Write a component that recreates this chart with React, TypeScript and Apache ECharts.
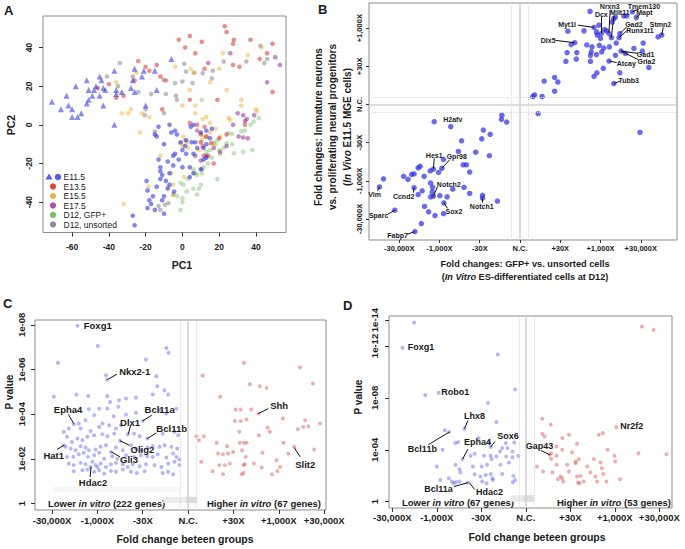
import React, { useEffect, useRef } from 'react';
import * as echarts from 'echarts';

const FONT = "'Liberation Sans', Arial, Helvetica, sans-serif";

// ---------- Panel A: PCA (PC1, PC2) ----------
const pcaE115Tri = [[-71,12],[-66,8],[-63,15],[-62,10],[-60,8],[-60,4],[-57,4],[-58,20],[-55,6],[-52,11],[-52,23],[-51,18],[-51,13],[-49,15],[-48,18],[-47,20],[-45,15],[-45,25],[-44,23],[-43,10],[-43,19],[-42,18],[-37,0],[-37,28],[-36,18],[-36,16],[-33,17],[-28,19],[-27,23],[-26,29],[-26,17],[-22,25],[-21,28],[-20,10],[-15,28],[-14,18],[-6,34]];
const pcaE115Circ = [[-27,-47],[-26,-52],[-19.5,-29],[-19,-34],[-19,-43],[-18,-39],[-17,-41],[-16,-37],[-15,-44],[-15,-5],[-14,-6],[-13,-1],[-13,-18],[-12,-24],[-12,-22],[-12,-28],[-11,-26],[-10,-46],[-10,-10],[-10,-37],[-9,-29],[-8,-19],[-7,0],[-7,-25],[-7,-31],[-6,-4],[-5,-21],[-5,-16],[-4.5,-34.5],[-4,-3],[-4,-15],[-3,-5],[-2,-18],[-1,-9],[0,-22],[1.5,-11],[2,-15],[4,-22],[4,-27],[4.5,-1],[5,-9],[6,0],[6,-15],[6,-25],[7,-9],[8,-12],[10,-4],[10,-23],[11.5,-12],[11.5,-18],[13,-17],[13,-3],[13,-10],[15,-7],[16,-2],[0,-13],[2,-8],[-8,-33],[-11,-39],[-14,-32]];
const pcaE135 = [[-46,19],[-40,21],[-36,14],[-32,15],[-26,23],[-24,33],[-20,30],[-18,28],[-14,31],[-12,25],[-11,8],[-9,23],[-2,44],[1.5,40],[4,46],[7,37],[10.5,43],[12,29],[4,13],[19,13],[4,1],[8,0],[8,-3],[10,-5],[12,-1],[13,-6],[10,-9],[11,-11],[15.5,-9.5],[20,-7],[24,-5],[14,-16],[11.5,-16],[23,51],[24,48],[28,44],[27.5,42],[27.5,31],[31,30],[37,44],[42,34],[46,37],[49,42],[49,17],[34,0],[17,-20]];
const pcaE155 = [[-36,22],[-33,6],[-29.5,6],[-28,8],[-25,27],[-23,-4],[-22,6],[-18,4],[-32,-41],[-18.5,-32],[-12,-16],[-4,30],[4.5,29],[6,27],[4,18],[0,10],[7,10],[7,6],[11,3],[13,4],[15,1],[18,-2],[15,-4],[20.5,-6],[0.5,-6],[-1,-9.5],[0,-11],[1.5,-8],[2.4,-9],[3,-12],[11.5,-6],[10.5,-8],[-6,-25],[-5,-31],[-8,-32],[-5,-36],[22,37],[35.5,36],[43,40],[32,13],[32,10],[24,18],[25,3.5],[26,2.5],[40,8],[40.5,7],[15,22],[20,29],[1,-27],[9,-13],[17,-10]];
const pcaE175 = [[14,32],[26,37],[30,6],[33,5],[34,2],[35,3],[27.5,0],[30.5,-6],[33,-6.5],[35.5,-7],[24,-11],[20.5,-14],[13,-16],[10,-18.5],[7,-16],[46,22],[50.5,35],[53,31],[39,5],[17,-12]];
const pcaD12Gfp = [[10.5,13],[17,-9],[18,-10],[19,-8],[20,-13],[20.5,-15],[15,-13],[16,-17],[14,-20],[11.5,-22],[10.5,-25],[8,-26],[7,-25],[10,-31],[9,-33],[8,-36],[6,-33],[2.4,-34.5],[-1,-30],[0.5,-31],[0,-38],[0,-40],[-1,-44],[19,-28],[24,-9.5],[25,-4.3],[27,-4.7],[32,-3.4],[34,-3],[37,0],[38.7,1.7],[41.5,3.4],[33,-14],[27,-10],[22.4,-12],[13,-14],[6,-23],[38,-13],[13,-6.4],[28,-14.7],[3,-28],[-3,-37]];
const pcaD12Uns = [[-34,32],[-41,25],[-35,20],[-27,25],[-24,17],[-20,8],[-20.5,5],[-15,-3.5],[-17,16],[-13,-42],[-12,-44],[-9.5,-41.4],[-7.6,-40.5],[1,31.6],[2,27.6],[6.4,27],[11,26.7],[16.5,28],[16,24],[5.5,21.6],[0,22.4],[-4,21.6],[-10.4,23.3],[-9,16],[-3.5,15],[-3,13],[-10,6],[34.7,32.8],[42.4,40.9],[44.5,31.9],[46,34],[10.5,-23],[22.4,32.8],[-5,-36]];
const pcaXTicks = [-60, -40, -20, 0, 20, 40];
const pcaYTicks = [-40, -20, 0, 20, 40];
const legendNames = ['E11.5', 'E13.5', 'E15.5', 'E17.5', 'D12, GFP+', 'D12, unsorted'];

// ---------- Panel B: fold changes (log-position units, N.C. = 0) ----------
const bPoints = [[-2.13,-0.45],[-1.72,-0.58],[-0.45,-0.28],[-0.46,-0.39],[-0.33,-0.46],[-0.91,-0.67],[-0.95,-0.9],[-0.74,-0.78],[-1.45,-0.95],[-1.1,-1.25],[-0.76,-1.34],[-1.53,-1.23],[-1.9,-1.44],[-1.41,-1.58],[-1.33,-1.58],[-1.25,-1.77],[-1.94,-1.67],[-2.15,-1.69],[-2.23,-1.74],[-2.02,-1.78],[-2.48,-1.62],[-2.53,-1.66],[-2.63,-1.82],[-2.69,-1.83],[-2.89,-1.88],[-2.78,-1.96],[-2.38,-1.88],[-3.39,-1.95],[-3.49,-2.16],[-2.63,-2.18],[-2.53,-2.36],[-2.43,-2.26],[-2.22,-2.06],[-2.17,-2.17],[-2.18,-2.29],[-2.22,-2.42],[-2.15,-2.4],[-1.99,-2.39],[-1.81,-2.42],[-1.67,-2.22],[-1.39,-2.17],[-1.25,-2.33],[-0.93,-2.38],[-0.93,-2.45],[-0.56,-2.53],[-2.37,-2.67],[-2.27,-2.81],[-2.11,-2.91],[-1.89,-2.58],[-1.9,-2.86],[-3.11,-2.77],[-2.45,-3.12],[-2.61,-3.33],
  [1.74,2.44],[1.84,2.02],[1.96,2.08],[2.02,1.86],[2.21,1.86],[2.29,2.16],[1.9,1.9],[1.92,1.82],[2.0,1.73],[2.1,1.96],[2.15,1.93],[2.27,1.75],[2.33,2.25],[2.37,2.29],[2.48,1.86],[2.58,2.32],[2.65,2.32],[2.79,2.43],[2.89,2.28],[3.06,1.61],[3.43,1.77],[3.52,1.82],[2.39,1.61],[2.46,1.75],[2.22,1.51],[2.08,1.48],[2.03,1.38],[1.97,1.55],[1.79,1.51],[1.66,1.56],[1.77,1.38],[1.75,1.29],[1.9,1.31],[1.75,1.13],[2.07,0.95],[2.21,1.14],[2.37,1.29],[2.51,1.4],[2.62,1.34],[2.83,1.47],[3.04,1.4],[3.2,0.97],[2.48,0.83],[2.33,0.55],[1.91,0.83],[1.84,0.74],[1.41,1.36],[1.4,1.19],[1.17,1.36],[1.14,1.13],[1.36,1.62],[1.27,1.57],[1.19,1.92],[1.59,1.93],[0.6,0.61],[0.86,0.71],[0.94,0.59],[0.86,0.35],[0.55,0.21],[0.36,0.25],[0.32,0.21],[0.45,-0.24],[2.98,-0.73]];
const bGeneNames = ['Tmem130','Nrxn3','Mapt','Dcx','Mllt11','Myt1l','Gad2','Runx1t1','Stmn2','Dlx5','Gad1','Gria2','Atcay','Tubb3','H2afv','Hes1','Gpr98','Vim','Ccnd2','Notch2','Sox2','Notch1','Sparc','Fabp7'];
const bGeneLabelAt = [[3.08,2.57],[2.23,2.57],[3.09,2.42],[2.02,2.36],[2.48,2.4],[1.17,2.1],[2.83,2.1],[2.98,1.95],[3.49,2.1],[0.7,1.68],[3.12,1.31],[3.14,1.13],[2.64,1.07],[2.7,0.64],[-1.67,-0.38],[-2.13,-1.33],[-1.57,-1.35],[-3.61,-2.36],[-2.89,-2.4],[-1.77,-2.09],[-1.64,-2.8],[-0.95,-2.68],[-3.51,-2.9],[-3.04,-3.44]];
const bLeaders = [[2.95,2.5,2.79,2.43],[2.24,2.48,2.21,1.88],[2.98,2.36,2.89,2.28],[2.02,2.29,2.02,1.86],[2.33,2.32,2.27,1.75],[1.44,2.08,1.84,2.02],[2.65,2.03,2.48,1.86],[2.65,1.93,2.46,1.75],[3.56,2.02,3.52,1.82],[0.89,1.68,1.36,1.62],[2.93,1.34,2.51,1.4],[2.93,1.18,2.51,1.4],[2.4,1.1,2.21,1.14],[2.48,0.61,2.33,0.55],[-2.13,-1.41,-2.15,-1.69],[-1.74,-1.44,-1.94,-1.67],[-3.54,-2.26,-3.49,-2.16],[-2.65,-2.31,-2.63,-2.18],[-2.05,-2.16,-2.15,-2.4],[-1.8,-2.72,-1.89,-2.58],[-0.93,-2.57,-0.93,-2.45],[-3.28,-2.87,-3.11,-2.77],[-2.8,-3.4,-2.61,-3.33]];
const foldTickPos = [-3, -2, -1, 0, 1, 2, 3];
const foldTickLabels = ['-30,000X', '-1,000X', '-30X', 'N.C.', '+30X', '+1,000X', '+30,000X'];
const bYTickPos = [-3, -2, -1, 0, 1, 2];

// ---------- Panel C: fold change vs -log10(P) ----------
const cLower = [[-2.44,7.96],[-1.99,7.06],[-2.87,6.31],[-0.48,6.97],[-0.43,6.75],[-0.93,6.45],[-1.81,5.75],[-1.79,5.55],[-0.7,5.7],[-0.68,5.25],[-0.78,4.88],[-0.52,5.07],[-0.44,4.88],[-2.96,4.78],[-2.46,4.88],[-2.2,4.82],[-1.78,4.81],[-1.72,4.55],[-1.52,4.63],[-1.37,4.7],[-1.15,4.75],[-2.19,4.22],[-1.96,4.25],[-1.78,4.25],[-1.54,4.33],[-1.64,3.91],[-1.37,3.99],[-1.15,4.07],[-0.63,4.18],[-0.48,4.03],[-0.26,4.25],[-2.52,3.55],[-2.41,3.58],[-2.26,3.73],[-2.07,3.96],[-2.63,3.36],[-2.74,3.21],[-2.37,3.36],[-2.15,3.25],[-1.96,3.43],[-1.89,3.58],[-1.74,3.51],[-1.59,3.36],[-1.48,3.51],[-1.33,3.1],[-1.0,3.7],[-0.9,2.91],[-1.5,2.81],[-1.7,2.31],[-2.74,2.61],[-2.15,1.64],
  [-2.67,2.99],[-2.56,2.76],[-2.44,2.91],[-2.33,2.84],[-2.22,2.99],[-2.07,3.06],[-1.89,3.1],[-1.78,3.01],[-1.63,3.13],[-1.19,3.13],[-1.07,3.01],[-0.56,3.13],[-0.3,3.21],[-0.22,3.06],
  [-2.7,2.54],[-2.59,2.46],[-2.48,2.39],[-2.37,2.57],[-2.26,2.51],[-2.19,2.39],[-2.04,2.42],[-1.93,2.54],[-1.81,2.61],[-1.59,2.51],[-1.44,2.39],[-1.26,2.61],[-1.15,2.46],[-1.04,2.39],[-0.89,2.51],[-0.78,2.57],[-0.63,2.54],[-0.52,2.61],[-0.37,2.54],[-0.24,2.46],
  [-2.67,2.09],[-2.53,2.09],[-2.41,2.21],[-2.3,2.27],[-2.21,2.09],[-2.07,2.16],[-1.96,2.27],[-1.85,2.01],[-1.67,2.12],[-1.56,2.01],[-1.37,2.16],[-1.19,2.09],[-1.04,2.16],[-0.9,2.12],[-0.78,2.09],[-0.67,2.21],[-0.48,2.06],[-0.33,2.24],[-0.26,2.09],[-0.19,1.97],
  [-2.63,1.79],[-2.52,1.72],[-2.37,1.82],[-2.26,1.76],[-2.11,1.87],[-2.04,1.72],[-1.93,1.79],[-1.81,1.64],[-1.7,1.76],[-1.59,1.82],[-1.44,1.76],[-1.33,1.64],[-1.22,1.76],[-1.07,1.67],[-0.93,1.76],[-0.74,1.72],[-0.59,1.64],[-0.44,1.79],[-0.3,1.87],[-0.19,1.72],
  [-2.52,1.45],[-2.33,1.49],[-2.22,1.52],[-2.07,1.42],[-1.96,1.49],[-1.85,1.34],[-1.7,1.46],[-1.59,1.42],[-1.44,1.52],[-1.26,1.42],[-1.13,1.37],[-0.96,1.45],[-0.56,1.37],[-0.44,1.42],[-0.33,1.31],[-2.0,1.64]];
const cHigher = [[1.23,6.3],[2.47,6.09],[0.32,5.73],[1.36,5.34],[1.58,5.25],[1.73,5.18],[2.75,5.37],[0.71,4.78],[1.05,4.21],[1.16,4.21],[1.39,4.21],[1.55,4.03],[1.03,3.7],[1.16,3.7],[1.29,3.76],[2.09,3.81],[2.58,3.73],[1.75,3.4],[1.8,3.21],[2.42,3.33],[2.54,3.43],[2.65,3.46],[2.91,3.58],[1.13,3.21],[1.56,3.06],[0.18,3.01],[0.35,3.01],[0.24,2.84],[0.63,2.72],[1.14,2.72],[1.23,2.72],[1.29,2.72],[2.1,2.72],[0.86,2.57],[0.99,2.31],[1.19,2.39],[1.64,2.27],[2.21,2.24],[2.34,2.54],[2.78,2.42],[0.66,2.24],[0.77,2.21],[0.88,2.24],[1.27,2.09],[0.29,1.87],[1.95,1.94],[0.69,1.72],[0.81,1.72],[0.92,1.79],[1.22,1.72],[1.25,1.76],[1.45,1.79],[1.62,1.61],[2.03,1.64],[0.54,1.45],[0.77,1.31],[1.18,1.31],[1.22,1.37],[1.85,1.31],[1.97,1.45]];
const cGeneNames = ['Foxg1','Nkx2-1','Epha4','Bcl11a','Dlx1','Bcl11b','Olig2','Gli3','Hat1','Hdac2','Shh','Slit2'];
const cGeneLabelAt = [[-2.3,7.99],[-1.52,5.93],[-2.96,4.21],[-0.96,4.21],[-1.5,3.63],[-0.7,3.36],[-1.27,2.43],[-1.5,1.99],[-3.19,2.13],[-2.41,0.93],[1.81,4.4],[2.36,1.76]];
const cLeaders = [[-1.57,5.79,-1.78,5.55],[-2.64,3.99,-2.52,3.58],[-0.8,3.96,-1.0,3.7],[-1.27,3.48,-1.32,3.1],[-0.7,3.16,-0.9,2.91],[-1.3,2.61,-1.5,2.81],[-1.5,2.09,-1.69,2.31],[-2.89,2.42,-2.74,2.61],[-2.16,1.19,-2.14,1.64],[1.77,4.25,1.55,4.03],[2.47,2.09,2.34,2.51]];
const cPTickPos = [0, 2, 4, 6, 8];
const cPTickLabels = ['1', '1e-02', '1e-04', '1e-06', '1e-08'];

// ---------- Panel D ----------
const dLower = [[-2.51,13.81],[-2.77,11.87],[-0.63,11.35],[-0.24,8.65],[-2.26,8.21],[-1.96,8.39],[-0.85,7.61],[-0.66,6.14],[-1.38,5.63],[-1.82,5.5],[-1.72,5.37],[-1.06,4.9],[-1.52,4.59],[-1.58,4.52],[-0.83,4.59],[-1.87,4.0],[-1.42,3.28],[-1.24,3.54],[-1.15,3.69],[-0.79,4.21],[-0.94,3.54],[-0.79,3.54],[-0.77,3.28],[-0.66,3.48],[-0.53,4.13],[-0.41,4.13],[-0.45,4.52],[-0.58,3.87],[-0.44,3.48],[-0.3,3.87],[-0.3,3.43],[-0.17,3.54],[-0.26,4.57],[-0.38,3.02],[-2.0,2.71],[-1.58,2.84],[-1.49,2.5],[-1.47,2.25],[-1.19,2.71],[-0.99,2.71],[-0.87,2.84],[-0.57,2.84],[-1.15,2.12],[-1.02,1.94],[-0.9,2.06],[-0.79,2.14],[-0.75,1.81],[-0.53,2.14],[-0.28,1.99],[-0.24,1.68],[-0.29,1.5],[-1.92,1.68],[-1.73,1.81],[-1.66,1.55],[-1.57,1.5],[-1.49,1.55],[-1.62,1.42],[-1.3,1.47],[-0.98,1.55],[-0.88,1.42],[-0.74,1.68]];
const dHigher = [[2.61,13.5],[2.87,13.24],[0.37,6.4],[0.56,5.94],[2.03,5.73],[0.37,5.24],[0.42,5.03],[0.82,4.9],[0.97,5.16],[1.64,5.16],[1.73,5.29],[0.54,3.61],[0.69,4.26],[1.15,4.46],[0.57,3.74],[0.69,3.54],[0.82,4.0],[1.04,3.79],[1.19,3.28],[1.12,3.1],[1.38,2.71],[1.53,3.28],[1.68,3.02],[1.71,2.58],[1.84,4.0],[1.99,3.54],[2.01,3.1],[2.53,3.74],[3.16,3.66],[0.25,2.71],[0.39,2.32],[0.57,3.3],[0.6,2.25],[0.69,2.84],[0.78,1.94],[0.82,1.81],[0.72,1.73],[0.84,1.55],[0.93,2.84],[0.97,2.32],[1.12,2.97],[1.15,1.94],[1.23,1.99],[1.17,1.47],[1.21,1.42],[1.3,1.55],[1.45,2.25],[1.56,1.94],[1.6,1.55],[1.74,2.14],[1.81,1.55],[2.12,1.73]];
const dGeneNames = ['Foxg1','Robo1','Lhx8','Bcl11b','Epha4','Sox6','Bcl11a','Hdac2','Gap43','Nr2f2'];
const dGeneLabelAt = [[-2.65,11.95],[-1.9,8.44],[-1.39,6.58],[-2.65,4.05],[-1.39,4.57],[-0.64,5.03],[-2.28,0.95],[-1.12,0.77],[0.0,4.26],[2.12,5.86]];
const dLeaders = [[-1.3,6.25,-1.38,5.63],[-2.19,4.39,-1.72,5.37],[-1.3,4.05,-1.42,3.28],[-0.69,4.65,-0.79,4.21],[-1.62,1.16,-1.3,1.47],[-1.15,0.95,-1.27,1.47],[0.34,3.95,0.54,3.61]];
const dPTickPos = [0, 4, 8, 12, 14];
const dPTickLabels = ['1', '1e-04', '1e-08', '1e-12', '1e-14'];

// ---------- helpers ----------
function makeAxis(gridIndex: number, min: number, max: number, ticks: number[], fmt: (v: number) => string, fontSize: number, margin: number, rotate = 0, tickLen = 4) {
  return {
    type: 'value', gridIndex, min, max,
    axisLine: { show: false, onZero: false },
    axisTick: { show: true, customValues: ticks, length: tickLen, lineStyle: { color: '#333', width: 1 } },
    axisLabel: { customValues: ticks, formatter: fmt, fontSize, fontWeight: 'bold', color: '#1a1a1a', fontFamily: FONT, margin, rotate },
    splitLine: { show: false },
  };
}
const foldFmt = (v: number) => foldTickLabels[Math.round(v) + 3] ?? '';
const lookupFmt = (pos: number[], labels: string[]) => (v: number) => {
  const i = pos.findIndex((p) => Math.abs(p - v) < 1e-6);
  return i >= 0 ? labels[i] : '';
};

function labelSeries(idx: number, names: string[], at: number[][], leaders: number[][], fontSize: number, align: string) {
  return {
    type: 'scatter', xAxisIndex: idx, yAxisIndex: idx, symbolSize: 0, silent: true, z: 5,
    itemStyle: { color: '#1a1a1a', opacity: 0 },
    data: names.map((n, i) => ({ name: n, value: at[i] })),
    label: {
      show: true, formatter: '{b}', position: 'right', align, verticalAlign: 'middle', distance: 0, fontSize, fontWeight: 'bold', color: '#1a1a1a',
      fontFamily: FONT, textBorderWidth: 0, textBorderColor: 'transparent', opacity: 1,
    },
    markLine: {
      silent: true, symbol: ['none', 'none'], animation: false, label: { show: false },
      lineStyle: { color: '#111', width: 1, type: 'solid' },
      data: leaders.map((l) => [{ coord: [l[0], l[1]] }, { coord: [l[2], l[3]] }]),
    },
  };
}

function refSeries(idx: number, xs: number[], ys: number[], areas: any[]) {
  const lines: any[] = [];
  xs.forEach((x) => lines.push({ xAxis: x, lineStyle: { color: x === 0 ? '#d2d2d2' : '#d8d8d8', width: x === 0 ? 1.6 : 1, type: x === 0 ? 'solid' : 'dotted' } }));
  ys.forEach((y) => lines.push({ yAxis: y, lineStyle: { color: y === 0 ? '#d2d2d2' : '#d8d8d8', width: y === 0 ? 1.6 : 1, type: y === 0 ? 'solid' : 'dotted' } }));
  return {
    type: 'scatter', xAxisIndex: idx, yAxisIndex: idx, symbolSize: 0, silent: true, z: 1,
    data: [[0, 0]], itemStyle: { color: 'transparent' },
    markLine: { silent: true, symbol: ['none', 'none'], animation: false, label: { show: false }, data: lines },
    markArea: { silent: true, data: areas },
  };
}

function pts(idx: number, data: number[][], color: string, size: number, symbol = 'circle') {
  return { type: 'scatter', xAxisIndex: idx, yAxisIndex: idx, data, symbol, symbolSize: size, itemStyle: { color }, z: 3, silent: true };
}

const legendColors = ['rgba(50,50,220,0.8)', 'rgba(210,40,40,0.85)', 'rgba(225,165,50,0.85)', 'rgba(150,50,150,0.85)', 'rgba(100,180,80,0.85)', 'rgba(130,130,130,0.9)'];

function txt(x: number, y: number, text: string, fontSize: number, opts: any = {}) {
  return {
    type: 'text', x, y, rotation: opts.rotation || 0, silent: true,
    style: {
      text, fontSize, fontWeight: opts.weight || 'bold', fontFamily: FONT, fill: '#1a1a1a',
      align: opts.align || 'center', verticalAlign: opts.valign || 'middle', rich: opts.rich,
    },
  };
}

export default function App() {
  const ref = useRef<HTMLDivElement>(null);
  useEffect(() => {
    if (!ref.current) return;
    const chart = echarts.init(ref.current, undefined, { renderer: 'svg' });
    const gridBase = { show: true, borderColor: '#8c8c8c', borderWidth: 1, containLabel: false, outerBoundsMode: 'none' };
    const richIt = (fs: number) => ({
      n: { fontSize: fs, fontWeight: 'bold', fontFamily: FONT, fill: '#1a1a1a' },
      i: { fontSize: fs, fontWeight: 'bold', fontStyle: 'italic', fontFamily: FONT, fill: '#1a1a1a' },
    });

    const graphics: any[] = [
      txt(4, 10, 'A', 13, { align: 'left' }),
      txt(318, 9, 'B', 13, { align: 'left' }),
      txt(3, 303, 'C', 13, { align: 'left' }),
      txt(343, 305, 'D', 13, { align: 'left' }),
      txt(182, 265, 'PC1', 10.5),
      txt(11, 125, 'PC2', 10.5, { rotation: Math.PI / 2 }),
      txt(318, 127, 'Fold changes: Immature neurons', 10, { rotation: Math.PI / 2 }),
      txt(332, 127, 'vs. proliferating neural progenitors', 10, { rotation: Math.PI / 2 }),
      txt(347, 127, '{n|(}{i|In Vivo}{n| E11.5 MGE cells)}', 10, { rotation: Math.PI / 2, rich: richIt(10) }),
      txt(525, 264, 'Fold changes: GFP+ vs. unsorted cells', 9.2),
      txt(525, 277, '{n|(}{i|In Vitro}{n| ES-differentiated cells at D12)}', 9.2, { rich: richIt(9.2) }),
      txt(185, 539, 'Fold change beteen groups', 10.5),
      txt(9, 392, 'P value', 10, { rotation: Math.PI / 2 }),
      txt(537, 537, 'Fold change beteen groups', 10.5),
      txt(358, 397, 'P value', 10, { rotation: Math.PI / 2 }),
      txt(48, 503, '{n|Lower }{i|in vitro}{n| (222 genes)}', 9.5, { align: 'left', rich: richIt(9.5) }),
      txt(207, 503, '{n|Higher }{i|in vitro}{n| (67 genes)}', 9.5, { align: 'left', rich: richIt(9.5) }),
      txt(402, 502, '{n|Lower }{i|in vitro}{n| (67 genes)}', 9.5, { align: 'left', rich: richIt(9.5) }),
      txt(557, 502, '{n|Higher }{i|in vitro}{n| (53 genes)}', 9.5, { align: 'left', rich: richIt(9.5) }),
    ];
    // legend of panel A
    const rowY = [177, 186.5, 196, 205.5, 215, 224.5];
    legendNames.forEach((name, i) => {
      const y = rowY[i];
      if (i === 0) {
        graphics.push({ type: 'polygon', silent: true, shape: { points: [[49, y - 3.6], [52.6, y + 2.6], [45.4, y + 2.6]] }, style: { fill: legendColors[0] } });
        graphics.push({ type: 'circle', silent: true, shape: { cx: 58, cy: y, r: 3.3 }, style: { fill: legendColors[0] } });
      } else {
        graphics.push({ type: 'circle', silent: true, shape: { cx: 53, cy: y, r: 3.1 }, style: { fill: legendColors[i] } });
      }
      graphics.push(txt(63.5, y, name, 8.5, { align: 'left', weight: 'normal' }));
    });

    const option: any = {
      animation: false,
      backgroundColor: '#ffffff',
      textStyle: { fontFamily: FONT },
      grid: [
        { ...gridBase, left: 43, top: 16, width: 243, height: 216.5 },
        { ...gridBase, left: 369, top: 3, width: 308, height: 237 },
        { ...gridBase, left: 35, top: 320, width: 291, height: 190 },
        { ...gridBase, left: 389, top: 316, width: 283, height: 192 },
      ],
      xAxis: [
        makeAxis(0, -75.8, 56.3, pcaXTicks, (v) => String(v), 8.5, 10),
        makeAxis(1, -3.75, 3.9, foldTickPos, foldFmt, 7.5, 4, 0, 3),
        makeAxis(2, -3.375, 3.04, foldTickPos, foldFmt, 9.5, 5),
        makeAxis(3, -3.074, 3.285, foldTickPos, foldFmt, 9.5, 4),
      ],
      yAxis: [
        makeAxis(0, -55.7, 56.3, pcaYTicks, (v) => String(v), 8.5, 10, 90),
        makeAxis(1, -3.55, 2.66, bYTickPos, foldFmt, 7.5, 6, 90, 3),
        makeAxis(2, -0.29, 8.22, cPTickPos, lookupFmt(cPTickPos, cPTickLabels), 9.5, 9, 90),
        makeAxis(3, -0.485, 14.31, dPTickPos, lookupFmt(dPTickPos, dPTickLabels), 9.5, 10, 90),
      ],
      series: [
        // Panel A
        pts(0, pcaD12Uns, 'rgba(120,120,120,0.6)', 4.6),
        pts(0, pcaD12Gfp, 'rgba(120,190,100,0.55)', 4.6),
        pts(0, pcaE155, 'rgba(235,175,50,0.6)', 4.6),
        pts(0, pcaE175, 'rgba(150,50,150,0.7)', 4.6),
        pts(0, pcaE135, 'rgba(210,40,40,0.65)', 4.6),
        pts(0, pcaE115Circ, 'rgba(40,40,220,0.7)', 4.6),
        pts(0, pcaE115Tri, 'rgba(60,60,225,0.75)', 6, 'triangle'),
        // Panel B
        refSeries(1, [-0.22, 0, 0.2], [-0.21, 0, 0.19], []),
        pts(1, bPoints, 'rgba(45,45,225,0.88)', 5.5),
        labelSeries(1, bGeneNames, bGeneLabelAt, bLeaders, 7, 'center'),
        // Panel C
        refSeries(2, [-0.17, 0, 0.18], [], [
          [{ coord: [-2.98, 0.5], itemStyle: { color: '#f6f6f6' } }, { coord: [-0.18, 0.75] }],
          [{ coord: [-0.55, 0.02], itemStyle: { color: '#ececec' } }, { coord: [0.2, 0.3] }],
          [{ coord: [-0.05, 0.02], itemStyle: { color: '#dedede' } }, { coord: [0.2, 0.3] }],
        ]),
        pts(2, cLower, 'rgba(80,80,230,0.52)', 4),
        pts(2, cHigher, 'rgba(210,60,60,0.52)', 4),
        labelSeries(2, cGeneNames, cGeneLabelAt, cLeaders, 9.5, 'left'),
        // Panel D
        refSeries(3, [-0.15, 0, 0.19], [], [
          [{ coord: [-0.34, 0.0], itemStyle: { color: '#ececec' } }, { coord: [0.18, 0.5] }],
          [{ coord: [-0.05, 0.0], itemStyle: { color: '#dedede' } }, { coord: [0.18, 0.5] }],
        ]),
        pts(3, dLower, 'rgba(80,80,230,0.52)', 4),
        pts(3, dHigher, 'rgba(210,60,60,0.52)', 4),
        labelSeries(3, dGeneNames, dGeneLabelAt, dLeaders, 9, 'left'),
      ],
      graphic: graphics,
    };
    chart.setOption(option);
    return () => chart.dispose();
  }, []);
  return <div ref={ref} style={{ position: 'absolute', left: 0, top: 0, width: 685, height: 549, background: '#fff' }} />;
}
